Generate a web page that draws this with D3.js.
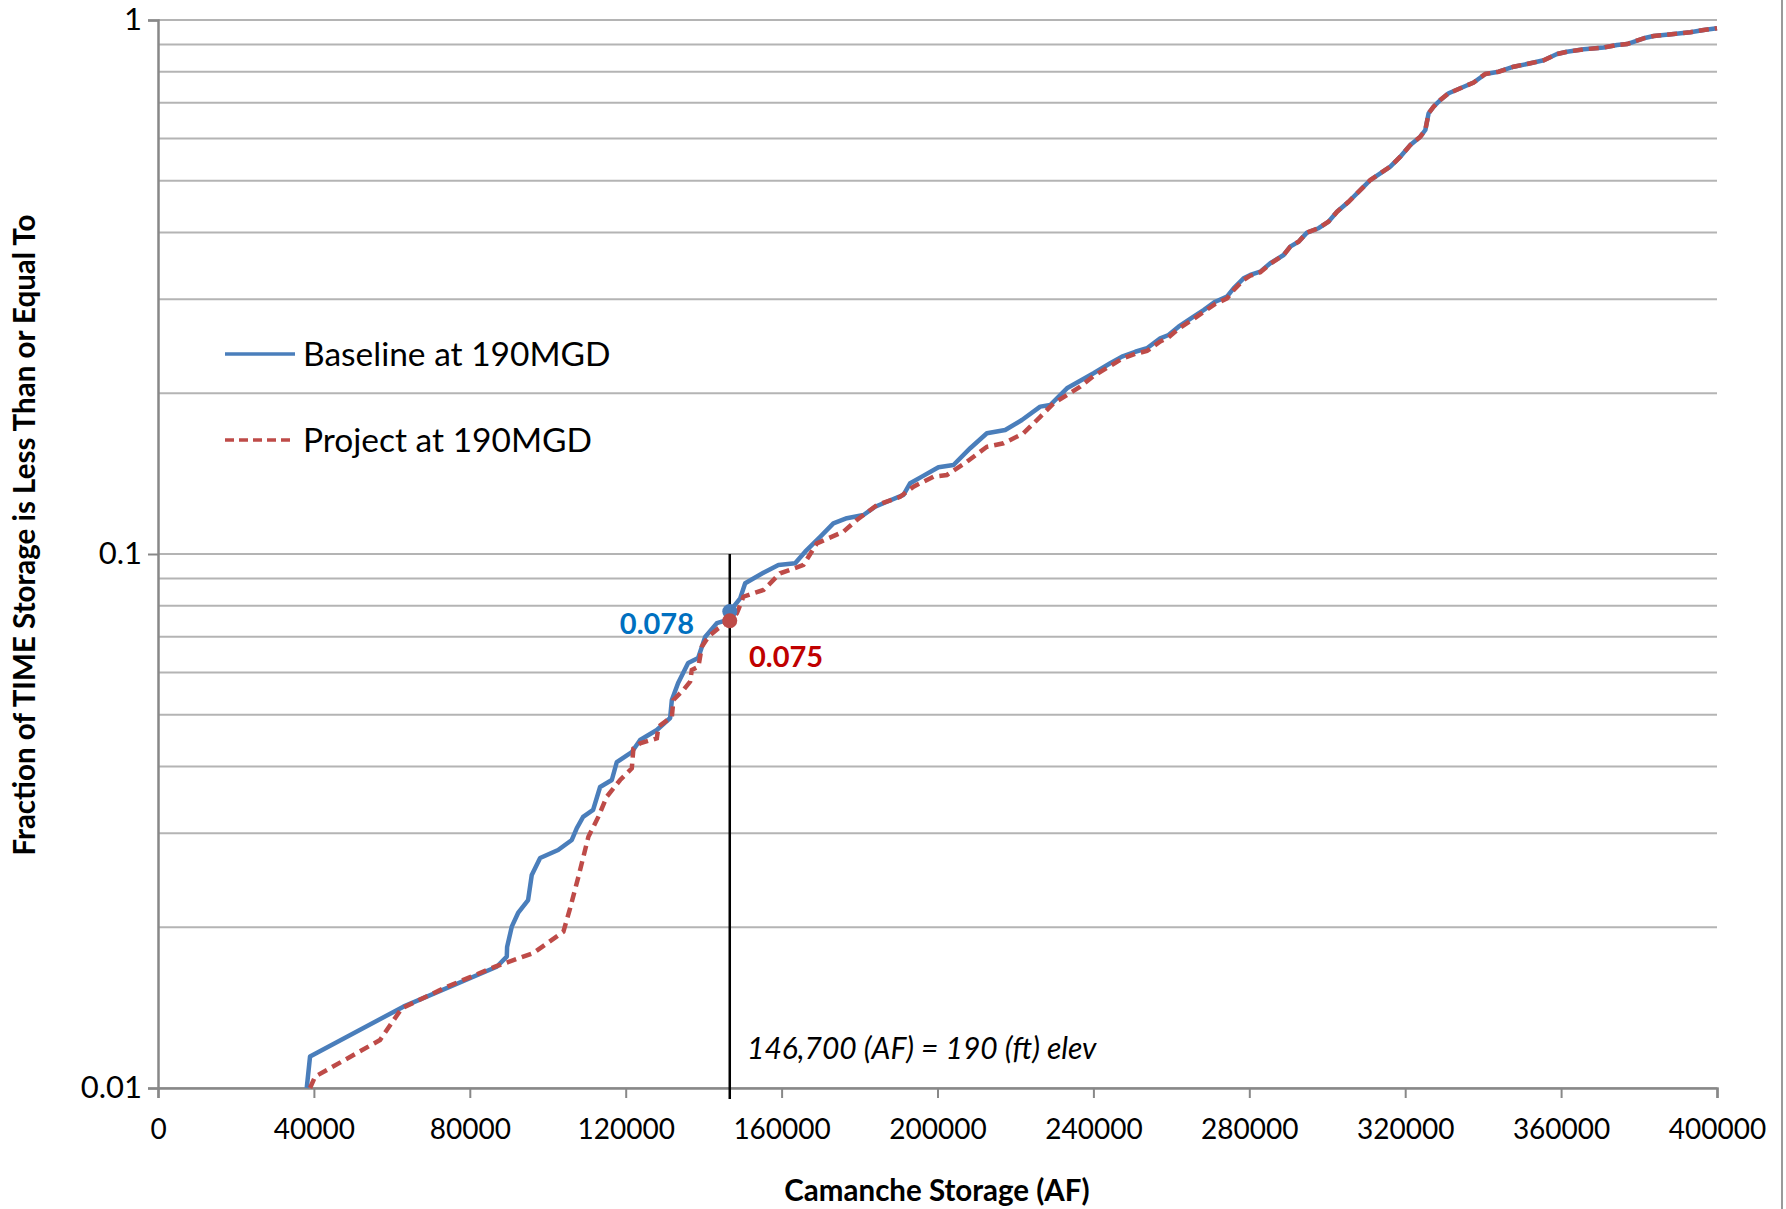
<!DOCTYPE html>
<html>
<head>
<meta charset="utf-8">
<script src="https://cdn.jsdelivr.net/npm/d3@7"></script>
<style>
  html, body { margin: 0; padding: 0; background: #ffffff; }
  svg { display: block; }
  text { font-family: Lato, "Open Sans", sans-serif; }
</style>
</head>
<body>
<svg id="chart" width="1786" height="1209"></svg>
<script>
// Camanche storage exceedance curves (storage in AF, fraction of time at or below)
const baselineStorage = [
  38160, 39010, 62950, 86920, 89490, 89570, 90770, 92390, 94960, 95900,
  98040, 102660, 106170, 107460, 109070, 111640, 113430, 116440, 117720, 121570,
  123700, 127990, 131400, 131840, 133450, 136020, 138590, 140380, 143390, 145950,
  146700, 149370, 150650, 155340, 159190, 163480, 166050, 169900, 173280, 176740,
  181010, 184010, 187010, 191270, 192990, 195990, 200250, 204100, 208390, 212670,
  217370, 221660, 226360, 228920, 233210, 240040, 244320, 247320, 250740, 253740,
  257150, 259280, 261850, 265700, 268270, 271270, 274270, 275970, 278530, 280250,
  282820, 285380, 288800, 290510, 292640, 294800, 297780, 300340, 302500, 305480,
  308920, 311050, 313610, 316180, 318750, 321310, 323880, 325160, 326010, 327290,
  329010, 331140, 334140, 337560, 340560, 343980, 347830, 352110, 355530, 358960,
  361520, 365790, 370920, 374360, 376930, 381190, 383760, 388890, 393170, 396590,
  400000
];
const baselineFraction = [
  0.0100, 0.01145, 0.01420, 0.01687, 0.01762, 0.01837, 0.02005, 0.02127, 0.02249, 0.02506,
  0.02696, 0.02791, 0.02914, 0.03068, 0.03218, 0.03317, 0.03662, 0.03774, 0.04078, 0.04258,
  0.04484, 0.04682, 0.04931, 0.05330, 0.05734, 0.06251, 0.06387, 0.06990, 0.07424, 0.07520,
  0.0780, 0.0826, 0.08814, 0.09226, 0.09537, 0.09607, 0.1010, 0.1077, 0.1141, 0.1167,
  0.1183, 0.1226, 0.1253, 0.1290, 0.1357, 0.1396, 0.1454, 0.1468, 0.1578, 0.1683,
  0.1707, 0.1782, 0.1888, 0.1901, 0.2043, 0.2180, 0.2276, 0.2342, 0.2392, 0.2428,
  0.2534, 0.2571, 0.2665, 0.2782, 0.2863, 0.2968, 0.3033, 0.3145, 0.3283, 0.3331,
  0.3379, 0.3503, 0.3630, 0.3763, 0.3845, 0.3998, 0.4074, 0.4192, 0.4375, 0.4567,
  0.4839, 0.5016, 0.5163, 0.5312, 0.5546, 0.5833, 0.6046, 0.6223, 0.6689, 0.6881,
  0.7083, 0.7290, 0.7449, 0.7638, 0.7923, 0.8002, 0.8177, 0.8297, 0.8405, 0.8636,
  0.8722, 0.8812, 0.8881, 0.8978, 0.9016, 0.9241, 0.9333, 0.9415, 0.9484, 0.9579,
  0.9649
];

const projectStorage = [
  39010, 40290, 56970, 62540, 74090, 86490, 96320, 104020, 105730, 107870,
  110430, 113000, 115150, 118570, 121570, 121980, 123700, 127990, 128400, 131840,
  132250, 134810, 136530, 136960, 138660, 139530, 141230, 143790, 146700, 148520,
  150210, 155350, 159630, 165610, 169050, 175870, 179310, 184450, 190430, 193840,
  198970, 202410, 207540, 212670, 216940, 222070, 226360, 229770, 236620, 240040,
  244320, 247320, 250740, 253740, 257150, 259280, 261850, 265700, 268270, 271270,
  274270, 275970, 278530, 280250, 282820, 285380, 288800, 290510, 292640, 294800,
  297780, 300340, 302500, 305480, 308920, 311050, 313610, 316180, 318750, 321310,
  323880, 325160, 326010, 327290, 329010, 331140, 334140, 337560, 340560, 343980,
  347830, 352110, 355530, 358960, 361520, 365790, 370920, 374360, 376930, 381190,
  383760, 388890, 393170, 396590, 400000
];
const projectFraction = [
  0.0100, 0.01050, 0.01230, 0.01410, 0.01547, 0.01687, 0.01790, 0.01962, 0.02170, 0.02487,
  0.02955, 0.03222, 0.03512, 0.03774, 0.03969, 0.04326, 0.04421, 0.04517, 0.04749, 0.04958,
  0.05330, 0.05564, 0.05768, 0.06065, 0.06152, 0.06706, 0.07001, 0.07260, 0.0750, 0.07744,
  0.08318, 0.08563, 0.09203, 0.09537, 0.1047, 0.1101, 0.1158, 0.1235, 0.1280, 0.1337,
  0.1396, 0.1406, 0.1489, 0.1588, 0.1612, 0.1683, 0.1807, 0.1915, 0.2057, 0.2154,
  0.2250, 0.2320, 0.2370, 0.2400, 0.2500, 0.2545, 0.2640, 0.2755, 0.2840, 0.2940,
  0.3010, 0.3120, 0.3260, 0.3320, 0.3370, 0.3495, 0.3630, 0.3763, 0.3845, 0.3998,
  0.4074, 0.4192, 0.4375, 0.4567, 0.4839, 0.5016, 0.5163, 0.5312, 0.5546, 0.5833,
  0.6046, 0.6223, 0.6689, 0.6881, 0.7083, 0.7290, 0.7449, 0.7638, 0.7923, 0.8002,
  0.8177, 0.8297, 0.8405, 0.8636, 0.8722, 0.8812, 0.8881, 0.8978, 0.9016, 0.9241,
  0.9333, 0.9415, 0.9484, 0.9579, 0.9649
];

const seriesNames = ["Baseline at 190MGD", "Project at 190MGD"];
const seriesColors = ["#4a7ebb", "#be4b48"];
const labelColors = ["#0070c0", "#c00000"];

// Reference storage for 190 ft elevation and the fraction read at that storage
const refStorage = 146700;
const refFractions = [0.078, 0.075];
const refNote = "146,700 (AF) = 190 (ft) elev";

const xTickValues = [0, 40000, 80000, 120000, 160000, 200000, 240000, 280000, 320000, 360000, 400000];
const yTickValues = [0.01, 0.1, 1];
const yTickLabels = ["0.01", "0.1", "1"];

const xTitle = "Camanche Storage (AF)";
const yTitle = "Fraction of TIME Storage is Less Than or Equal To";

const svg = d3.select("#chart");
const x = d3.scaleLinear().domain([0, 400000]).range([158, 1717]);
const y = d3.scaleLog().domain([0.01, 1]).range([1088, 20]);

// outer frame edge
svg.append("line")
  .attr("x1", 1782).attr("x2", 1782).attr("y1", 0).attr("y2", 1209)
  .attr("stroke", "#9a9a9a").attr("stroke-width", 2);

// horizontal gridlines at every log tick
svg.append("g").selectAll("line")
  .data(y.ticks())
  .join("line")
  .attr("x1", x(0)).attr("x2", x(400000))
  .attr("y1", d => y(d)).attr("y2", d => y(d))
  .attr("stroke", "#b4b4b4").attr("stroke-width", 2);

// x axis
const xAxis = svg.append("g")
  .attr("transform", `translate(0,${y(0.01)})`)
  .call(d3.axisBottom(x).tickValues(xTickValues).tickFormat(d3.format("d"))
        .tickSize(10).tickPadding(21));
xAxis.select(".domain").attr("stroke", "#888888").attr("stroke-width", 2.5);
xAxis.selectAll(".tick line").attr("stroke", "#888888").attr("stroke-width", 2);
xAxis.selectAll(".tick text").attr("font-size", 28).attr("fill", "#000")
  .style("font-family", "Lato, sans-serif");

// y axis
const yAxis = svg.append("g")
  .attr("transform", `translate(${x(0)},0)`)
  .call(d3.axisLeft(y).tickValues(yTickValues)
        .tickFormat((d, i) => yTickLabels[i]).tickSize(10).tickPadding(6));
yAxis.select(".domain").attr("stroke", "#888888").attr("stroke-width", 2.5);
yAxis.selectAll(".tick line").attr("stroke", "#888888").attr("stroke-width", 2);
yAxis.selectAll(".tick text").attr("font-size", 31).attr("fill", "#000")
  .style("font-family", "Lato, sans-serif");

// axis titles
svg.append("text")
  .attr("x", 937).attr("y", 1201)
  .attr("text-anchor", "middle").attr("font-size", 29.5).attr("font-weight", "bold")
  .text(xTitle);
svg.append("text")
  .attr("transform", "translate(35,535) rotate(-90)")
  .attr("text-anchor", "middle").attr("font-size", 29.5).attr("font-weight", "bold")
  .text(yTitle);

// curves
const line = d3.line().x(d => x(d[0])).y(d => y(d[1]));
const baseline = baselineStorage.map((s, i) => [s, baselineFraction[i]]);
const project = projectStorage.map((s, i) => [s, projectFraction[i]]);

// reference storage line
svg.append("line")
  .attr("x1", x(refStorage)).attr("x2", x(refStorage))
  .attr("y1", y(0.1)).attr("y2", y(0.01) + 11)
  .attr("stroke", "#000").attr("stroke-width", 2.5);

svg.append("path").datum(baseline)
  .attr("d", line).attr("fill", "none")
  .attr("stroke", seriesColors[0]).attr("stroke-width", 4.5)
  .attr("stroke-linejoin", "round");
svg.append("path").datum(project)
  .attr("d", line).attr("fill", "none")
  .attr("stroke", seriesColors[1]).attr("stroke-width", 4.5)
  .attr("stroke-dasharray", "10,6");

// reference markers
svg.append("g").selectAll("circle")
  .data(refFractions)
  .join("circle")
  .attr("cx", x(refStorage)).attr("cy", d => y(d)).attr("r", 7.5)
  .attr("fill", (d, i) => seriesColors[i]);

// marker value labels
svg.append("text")
  .attr("x", 694).attr("y", y(refFractions[0]) + 22)
  .attr("text-anchor", "end").attr("font-size", 29).attr("font-weight", "bold")
  .attr("fill", labelColors[0]).text(refFractions[0].toFixed(3));
svg.append("text")
  .attr("x", 749).attr("y", y(refFractions[1]) + 46)
  .attr("font-size", 29).attr("font-weight", "bold")
  .attr("fill", labelColors[1]).text(refFractions[1].toFixed(3));

// reference note
svg.append("text")
  .attr("x", 747).attr("y", 1059)
  .attr("font-size", 30).attr("font-style", "italic")
  .text(refNote);

// legend
const legend = svg.append("g");
seriesNames.forEach((name, i) => {
  const ly = 354 + i * 86;
  legend.append("line")
    .attr("x1", 225).attr("x2", 295).attr("y1", ly).attr("y2", ly)
    .attr("stroke", seriesColors[i]).attr("stroke-width", 3.5)
    .attr("stroke-dasharray", i === 1 ? "9,5" : null);
  legend.append("text")
    .attr("x", 303).attr("y", ly + 12)
    .attr("font-size", 33.5).attr("fill", "#000")
    .text(name);
});
</script>
</body>
</html>
